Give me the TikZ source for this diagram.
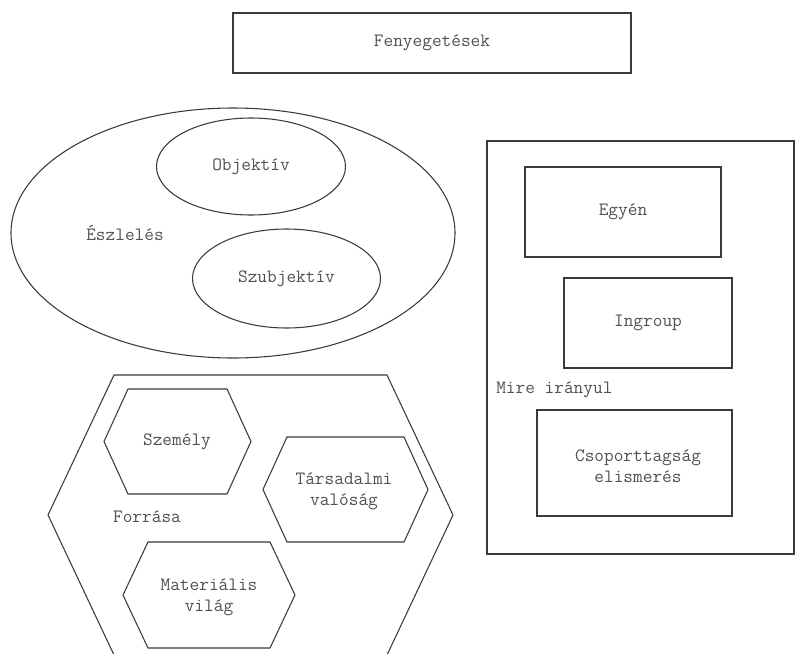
\documentclass[tikz,border=0pt]{standalone}
\usepackage{fontspec}
\usepackage{xcolor}
\usepackage{tikz}
\usetikzlibrary{shapes.geometric}

\definecolor{linegray}{HTML}{3A3A3A}
\definecolor{textgray}{HTML}{505050}

\tikzset{
  line/.style={draw=linegray, line width=0.8pt},
  label/.style={text=textgray, font=\ttfamily\fontsize{14.1}{15.75}\selectfont, align=center, inner sep=0pt},
  box/.style={line, label, rectangle},
  oval/.style={line, label, ellipse, inner sep=0pt},
}
% hexagon: centre x, centre y, half width, half height, depth of the point
\newcommand{\hexa}[5]{%
  \draw[line] (#1-#3,#2) -- (#1-#3+#5,#2-#4) -- (#1+#3-#5,#2-#4)
    -- (#1+#3,#2) -- (#1+#3-#5,#2+#4) -- (#1-#3+#5,#2+#4) -- cycle;}

\begin{document}
\begin{tikzpicture}[x=0.75pt, y=-0.75pt]
        \useasboundingbox (0,0) rectangle (795,653);
        \clip (0,0) rectangle (795,653);

        \node[box, minimum width=298.5pt, minimum height=45pt] at (432, 43) (fenyeg) {Fenyegetések};

        % Eszleles
        \node[oval, minimum width=333pt, minimum height=187.5pt] at (233, 233) (eszl) {};
        \node[oval, minimum width=141.75pt, minimum height=72.75pt] at (251, 166.5) (obj) {Objektív};
        \node[oval, minimum width=141pt, minimum height=74.25pt] at (286.5, 278.5) (szubj) {Szubjektív};
        \node[label] at (125, 233) (eszl_t) {Észlelés};

        % Forrasa
        \hexa{250.5}{515}{202.5}{140}{66}
        \node[label] at (147, 517) (forr_t) {Forrása};
        \hexa{177.5}{441.5}{73.5}{52.5}{24}
        \node[label] at (177, 442) (szem) {Személy};
        \hexa{345.5}{489.5}{82.5}{52.5}{24}
        \node[label] at (344, 491) (tars) {Társadalmi\\valóság};
        \hexa{209}{595}{86}{53}{25}
        \node[label] at (209, 597) (mat) {Materiális\\világ};

        % Mire iranyul
        \node[line, rectangle, minimum width=230.25pt, minimum height=309.75pt] at (640.5, 347.5) (mire) {};
        \node[label, anchor=west] at (496, 390) (mire_t) {Mire irányul};
        \node[box, minimum width=147pt, minimum height=67.5pt] at (623, 212) (egyen) {Egyén};
        \node[box, minimum width=126pt, minimum height=67.5pt] at (648, 323) (ingr) {Ingroup};
        \node[box, minimum width=146.25pt, minimum height=79.5pt] at (634.5, 463) (csop) {};
        \node[label] at (638, 466) (csop_t) {Csoporttagság\\elismerés};
    \end{tikzpicture}
\end{document}
